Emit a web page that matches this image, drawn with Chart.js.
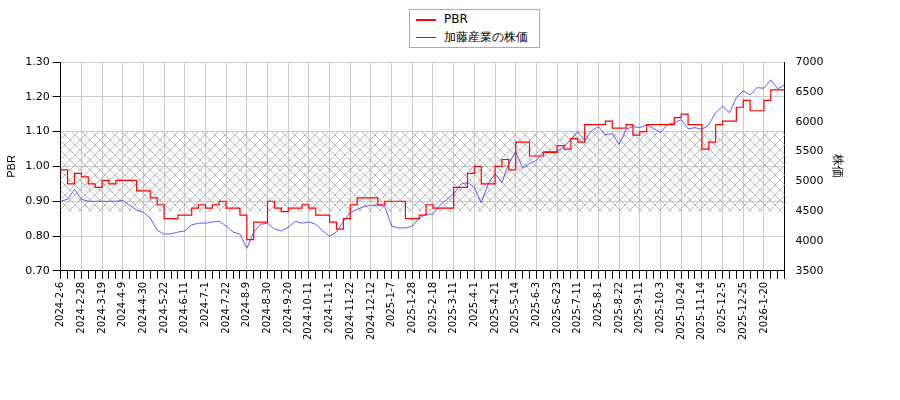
<!DOCTYPE html>
<html><head><meta charset="utf-8">
<script src="https://cdn.jsdelivr.net/npm/chart.js@4"></script>
<style>
body{margin:0;background:#fff;font-family:"DejaVu Sans",sans-serif}
#wrap{position:relative;width:900px;height:400px}
#lg{position:absolute;left:409px;top:9px;width:131px;height:39px;border:1px solid #aaa;background:#fff;font-size:12px;box-sizing:border-box}
#lg div{position:absolute;left:6px;height:16px;line-height:16px;white-space:nowrap}
#lg span{display:inline-block;width:20px;height:0;vertical-align:middle;margin-right:8px}
</style></head><body>
<div id="wrap"><canvas id="c" width="900" height="400"></canvas>
<div id="lg"><div style="top:1px"><span style="border-top:2px solid #f00"></span>PBR</div><div style="top:19px"><span style="border-top:1px solid #33f"></span>加藤産業の株価</div></div></div>
<script>
const tickDates=["2024-2-6","2024-2-28","2024-3-19","2024-4-9","2024-4-30","2024-5-22","2024-6-11","2024-7-1","2024-7-22","2024-8-9","2024-8-30","2024-9-20","2024-10-11","2024-11-1","2024-11-22","2024-12-12","2025-1-7","2025-1-28","2025-2-18","2025-3-11","2025-4-1","2025-4-21","2025-5-14","2025-6-3","2025-6-23","2025-7-11","2025-8-1","2025-8-22","2025-9-11","2025-10-3","2025-10-24","2025-11-14","2025-12-5","2025-12-25","2026-1-20"];
const pbr=[0.99,0.95,0.98,0.97,0.95,0.94,0.96,0.95,0.96,0.96,0.96,0.93,0.93,0.91,0.89,0.85,0.85,0.86,0.86,0.88,0.89,0.88,0.89,0.90,0.88,0.88,0.86,0.79,0.84,0.84,0.90,0.88,0.87,0.88,0.88,0.89,0.88,0.86,0.86,0.84,0.82,0.85,0.89,0.91,0.91,0.91,0.89,0.90,0.90,0.90,0.85,0.85,0.86,0.89,0.88,0.88,0.88,0.94,0.94,0.98,1.00,0.95,0.95,1.00,1.02,0.99,1.07,1.07,1.03,1.03,1.04,1.04,1.06,1.05,1.08,1.07,1.12,1.12,1.12,1.13,1.11,1.11,1.12,1.09,1.10,1.12,1.12,1.12,1.12,1.14,1.15,1.12,1.12,1.05,1.07,1.12,1.13,1.13,1.17,1.19,1.16,1.16,1.19,1.22,1.22,1.22];
const price=[4667,4700,4867,4700,4667,4667,4667,4667,4667,4680,4600,4520,4480,4383,4180,4117,4120,4150,4170,4270,4300,4300,4320,4333,4250,4150,4117,3880,4150,4280,4300,4200,4170,4230,4330,4300,4320,4280,4170,4080,4150,4330,4480,4530,4580,4600,4600,4580,4250,4220,4220,4250,4380,4450,4450,4600,4700,4790,4950,4983,4900,4640,4950,5133,4980,5300,5500,5217,5300,5350,5500,5500,5500,5580,5700,5833,5680,5850,5917,5780,5800,5617,5870,5917,5900,5950,5883,5820,5950,5983,6033,5880,5900,5870,5950,6150,6260,6150,6400,6520,6450,6570,6560,6700,6550,6620];
const labels=pbr.map((_,i)=>i%3===0?(tickDates[i/3]||''):'');
const bandLow=0.87, bandHigh=1.10;
const band={id:'band',beforeDatasetsDraw(ch){
 const {ctx,chartArea:a,scales:{y}}=ch;
 const pc=document.createElement('canvas');pc.width=10;pc.height=10;
 const p=pc.getContext('2d');p.strokeStyle='#aaa';p.lineWidth=0.8;
 p.beginPath();p.moveTo(0,0);p.lineTo(10,10);p.moveTo(10,0);p.lineTo(0,10);p.stroke();
 const t=y.getPixelForValue(bandHigh),b=y.getPixelForValue(bandLow);
 ctx.save();ctx.fillStyle=ctx.createPattern(pc,'repeat');ctx.fillRect(a.left,t,a.right-a.left,b-t);ctx.restore();}};
new Chart(document.getElementById('c'),{type:'line',
 data:{labels,datasets:[
  {label:'PBR',data:pbr,borderColor:'#f00',borderWidth:1.2,stepped:true,pointRadius:0,yAxisID:'y'},
  {label:'加藤産業の株価',data:price,borderColor:'#33f',borderWidth:0.8,pointRadius:0,yAxisID:'y1'}]},
 options:{responsive:false,animation:false,
  layout:{padding:{top:62,left:1,right:51,bottom:57}},
  plugins:{legend:{display:false},tooltip:{enabled:false}},
  scales:{
   x:{offset:false,grid:{color:ctx=>labels[ctx.index]?'#ccc':'transparent',drawTicks:true,tickColor:'#000'},border:{color:'#000'},
      ticks:{autoSkip:false,maxRotation:90,minRotation:90,color:'#000',font:{size:10,family:'DejaVu Sans'}}},
   y:{min:0.7,max:1.3,ticks:{stepSize:0.1,color:'#000',callback:v=>v.toFixed(2),font:{size:11,family:'DejaVu Sans'}},grid:{color:'#ccc',tickColor:'#000'},border:{color:'#000'},
      title:{display:true,text:'PBR',color:'#000',font:{size:11}}},
   y1:{position:'right',min:3500,max:7000,ticks:{stepSize:500,color:'#000',callback:v=>String(v),font:{size:11,family:'DejaVu Sans'}},grid:{display:false,tickColor:'#000'},border:{color:'#000'},
      title:{display:true,text:'株価',color:'#000',font:{size:12}}}
  }},plugins:[band]});
</script></body></html>
